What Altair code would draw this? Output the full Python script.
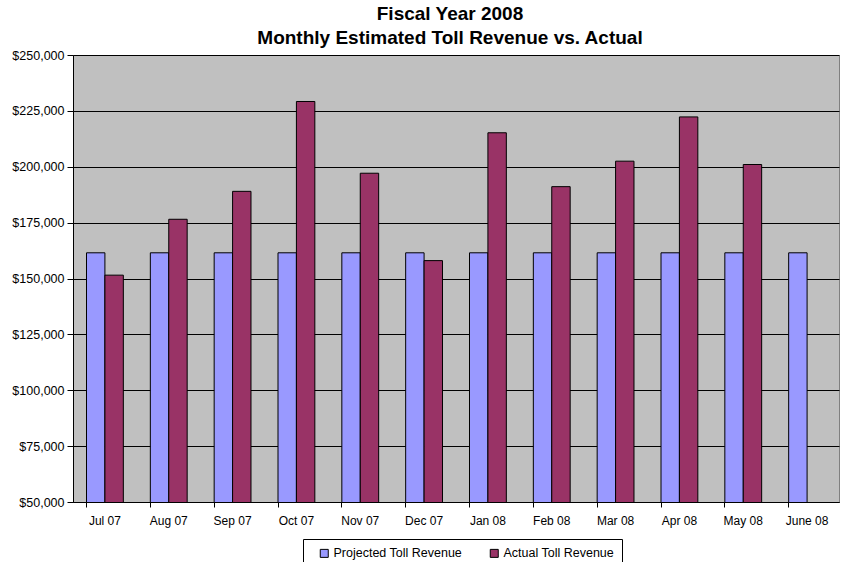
import altair as alt
import pandas as pd

months = ["Jul 07", "Aug 07", "Sep 07", "Oct 07", "Nov 07", "Dec 07",
          "Jan 08", "Feb 08", "Mar 08", "Apr 08", "May 08", "June 08"]
projected = [161500] * 12
actual = [151500, 176500, 189000, 229200, 197100, 158000,
          215200, 191100, 202500, 222300, 201000, None]
series_names = ["Projected Toll Revenue", "Actual Toll Revenue"]
series_colors = ["#9999FF", "#993366"]

rows = []
for m, p, a in zip(months, projected, actual):
    rows.append({"month": m, "series": series_names[0], "value": p})
    if a is not None:
        rows.append({"month": m, "series": series_names[1], "value": a})
df = pd.DataFrame(rows)
labels_df = pd.DataFrame({"month": months})

FONT = "Liberation Sans"
W, H = 766, 447

x_scale = alt.Scale(domain=months, paddingInner=0.423, paddingOuter=0.2115)

bars = alt.Chart(df).mark_bar(stroke="black", strokeWidth=1, clip=True).encode(
    x=alt.X("month:N", sort=months, scale=x_scale,
            axis=alt.Axis(title=None, labels=False, bandPosition=0, tickSize=5,
                          tickColor="black", domainColor="black", grid=False)),
    xOffset=alt.XOffset("series:N", sort=series_names,
                        scale=alt.Scale(paddingInner=0, paddingOuter=0)),
    y=alt.Y("value:Q",
            scale=alt.Scale(domain=[50000, 250000], zero=False, nice=False),
            axis=alt.Axis(title=None, format="$,.0f",
                          values=list(range(50000, 250001, 25000)),
                          tickSize=6, tickColor="black", domainColor="black",
                          gridColor="black", gridWidth=1, gridOpacity=1,
                          labelFontSize=12.5, labelFont=FONT, labelColor="black",
                          labelPadding=3)),
    color=alt.Color("series:N", sort=series_names,
                    scale=alt.Scale(domain=series_names, range=series_colors),
                    legend=alt.Legend(title=None, orient="none", direction="horizontal",
                                      legendX=230, legendY=484,
                                      symbolType="square", symbolSize=64,
                                      symbolOffset=7,
                                      symbolStrokeColor="black", symbolStrokeWidth=1,
                                      labelFont=FONT, labelFontSize=12.5, labelColor="black",
                                      labelOffset=3, columnPadding=18,
                                      fillColor="white", strokeColor="black",
                                      padding=8)),
)

month_labels = alt.Chart(labels_df).mark_text(
    font=FONT, fontSize=12, color="black", baseline="middle"
).encode(
    x=alt.X("month:N", sort=months, scale=x_scale),
    text="month:N",
    y=alt.value(H + 19),
)

chart = alt.layer(bars, month_labels).properties(
    width=W, height=H,
    autosize=alt.AutoSizeParams(type="none"),
    padding={"left": 73, "top": 55, "right": 2, "bottom": 60},
    title=alt.TitleParams(
        text=["Fiscal Year 2008", "Monthly Estimated Toll Revenue vs. Actual"],
        font=FONT, fontSize=19, fontWeight="bold", color="black",
        anchor="middle", frame="group", offset=1, lineHeight=24, dx=-6,
    ),
).configure_view(
    fill="#C0C0C0", stroke="#808080", strokeWidth=1
)

chart.save("out.html", embed_options={"renderer": "svg", "actions": False})
